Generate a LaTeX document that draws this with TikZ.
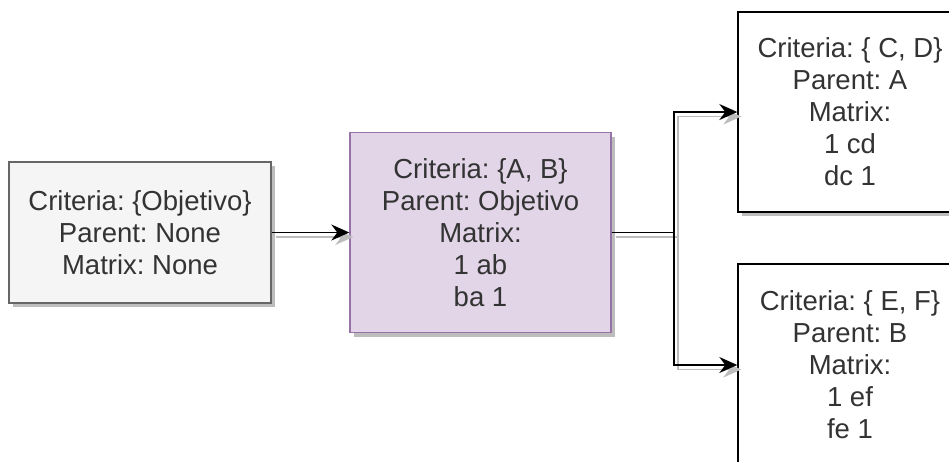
\documentclass[tikz,border=0pt]{standalone}
\usepackage{fontspec}
\setmainfont{Liberation Sans}
\frenchspacing
\usetikzlibrary{arrows.meta,shadows}
\definecolor{txt}{HTML}{333333}
\definecolor{grayfill}{HTML}{F5F5F5}
\definecolor{graydraw}{HTML}{666666}
\definecolor{purplefill}{HTML}{E1D5E7}
\definecolor{purpledraw}{HTML}{9673A6}
\definecolor{shadowc}{HTML}{BDBDBD}
\tikzset{
  box/.style={rectangle, draw=black, fill=white, line width=1.4pt, align=center,
    text=txt, inner sep=0pt, font=\fontsize{27.5}{32}\selectfont,
    general shadow={fill=shadowc, shadow xshift=4pt, shadow yshift=-4pt}},
  greybox/.style={box, draw=graydraw, fill=grayfill},
  purplebox/.style={box, draw=purpledraw, fill=purplefill},
  conn/.style={line width=1.5pt, draw=black, -{Stealth[length=18pt,width=16pt,inset=6pt]}},
  connshadow/.style={line width=1.5pt, draw=shadowc, -{Stealth[length=18pt,width=16pt,inset=6pt]},
    transform canvas={shift={(4pt,-4.5pt)}}}
}
\begin{document}
\begin{tikzpicture}[x=1pt,y=-1pt]
\useasboundingbox (0,0) rectangle (949,461);
\clip (0,0) rectangle (949,461);
\node[greybox, minimum width=262pt, minimum height=141pt] (b1) at (140,232.5)
  {Criteria: \{Objetivo\}\\Parent: None\\Matrix: None};
\node[purplebox, minimum width=261pt, minimum height=200pt] (b2) at (480.5,232.5)
  {Criteria: \{A, B\}\\Parent: Objetivo\\Matrix:\\1 ab\\ba 1};
\node[box, minimum width=224pt, minimum height=200pt] (b3) at (850,112)
  {Criteria: \{ C, D\}\\Parent: A\\Matrix:\\1 cd\\dc 1};
\node[box, minimum width=224pt, minimum height=202pt] (b4) at (850,365)
  {Criteria: \{ E, F\}\\Parent: B\\Matrix:\\1 ef\\fe 1};
\coordinate (j) at (674,232.5);
% connector shadows
\draw[connshadow] (b1.east) -- (b1.east -| b2.west);
\draw[connshadow] (b2.east) -- (j) |- (b3.west);
\draw[connshadow] (b2.east) -- (j) |- (b4.west);
% connectors
\draw[conn] (b1.east) -- (b1.east -| b2.west);
\draw[conn] (b2.east) -- (j) |- (b3.west);
\draw[conn] (b2.east) -- (j) |- (b4.west);
\end{tikzpicture}
\end{document}
